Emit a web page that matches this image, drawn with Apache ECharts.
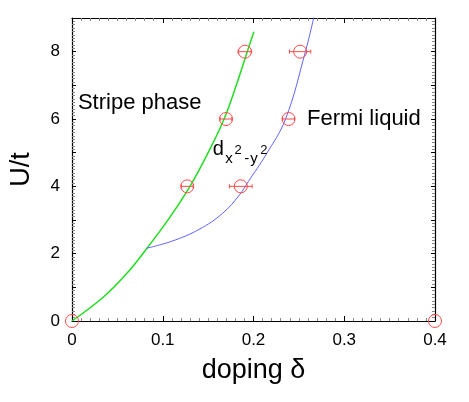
<!DOCTYPE html>
<html>
<head>
<meta charset="utf-8">
<script src="https://cdn.jsdelivr.net/npm/echarts@6/dist/echarts.min.js"></script>
<style>
  html, body { margin: 0; padding: 0; background: #fff; }
  #phaseChart { width: 469px; height: 402px; }
</style>
</head>
<body>
<div id="phaseChart"></div>
<script>
// stripe / d-wave boundary (green)
const stripeLine = [
  [0, 0], [0.035, 0.72], [0.06, 1.4], [0.082, 2.14], [0.107, 3.05],
  [0.13, 4.0], [0.15, 5.0], [0.1676, 6.0], [0.181, 7.0],
  [0.1931, 8.0], [0.2004, 8.59]
];
// d-wave / Fermi liquid boundary (blue)
const fermiLine = [
  [0.082, 2.16], [0.11, 2.37], [0.14, 2.72], [0.166, 3.2], [0.1844, 3.74],
  [0.1942, 4.14], [0.2135, 4.93], [0.2353, 6.0], [0.2572, 8.0], [0.267, 9.09]
];
// simulation points: [doping, U/t, error in doping]
const qmcPoints = [
  [0, 0, 0], [0.4, 0, 0],
  [0.127, 4, 0.0065], [0.186, 4, 0.0125],
  [0.1697, 6, 0.0065], [0.2386, 6, 0.0065],
  [0.1905, 8, 0.0075], [0.2514, 8, 0.0117]
];
const xTicks = [0, 0.1, 0.2, 0.3, 0.4];
const yTicks = [0, 2, 4, 6, 8];

const font = 'Liberation Sans, Arial, sans-serif';
const red = '#ff4a4a';

let myChart = echarts.init(document.getElementById('phaseChart'));

function xAxisBase(pos) {
  return {
    type: 'value', position: pos, min: xTicks[0], max: xTicks[xTicks.length - 1], interval: 0.1,
    axisLine: { show: true, onZero: false, lineStyle: { color: '#000', width: 1.2 } },
    axisTick: { show: true, inside: true, length: 5, lineStyle: { color: '#000' } },
    minorTick: { show: true, splitNumber: 10, length: 3, lineStyle: { color: '#888' } },
    splitLine: { show: false },
    axisLabel: { show: false }
  };
}
function yAxisBase(pos) {
  return {
    type: 'value', position: pos, min: 0, max: 9, interval: 1,
    axisLine: { show: true, onZero: false, lineStyle: { color: '#000', width: 1.2 } },
    axisTick: { show: true, inside: true, length: 4, lineStyle: { color: '#000' } },
    minorTick: { show: true, splitNumber: 10, length: 3, lineStyle: { color: '#888' } },
    splitLine: { show: false },
    axisLabel: { show: false }
  };
}

let xBottom = xAxisBase('bottom');
xBottom.axisLabel = { show: true, fontSize: 17, color: '#000', fontFamily: font, margin: 11 };
xBottom.name = 'doping δ';
xBottom.nameLocation = 'middle';
xBottom.nameGap = 36;
xBottom.nameTextStyle = { fontSize: 27, color: '#000', fontFamily: font };

let yLeft = yAxisBase('left');
yLeft.axisLabel = {
  show: true, fontSize: 17, color: '#000', fontFamily: font, margin: 12,
  formatter: v => (yTicks.indexOf(v) >= 0 ? String(v) : '')
};
yLeft.name = 'U/t';
yLeft.nameLocation = 'middle';
yLeft.nameGap = 37;
yLeft.nameTextStyle = { fontSize: 27, color: '#000', fontFamily: font };

let xTop = xAxisBase('top');
let yRight = yAxisBase('right');

myChart.setOption({
  animation: false,
  backgroundColor: '#fff',
  grid: { left: 69, right: 34, top: 18, bottom: 81, containLabel: false },
  xAxis: [xBottom, xTop],
  yAxis: [yLeft, yRight],
  series: [
    {
      name: 'stripe', type: 'line', data: stripeLine, smooth: 0.4,
      symbol: 'none', lineStyle: { color: '#22dd22', width: 1.5 }, z: 2
    },
    {
      name: 'fermi', type: 'line', data: fermiLine, smooth: 0.4,
      symbol: 'none', lineStyle: { color: '#6060ff', width: 1 }, z: 2
    },
    {
      name: 'errors', type: 'custom', data: qmcPoints, z: 3,
      renderItem: function (params, api) {
        const err = api.value(2);
        if (!err) return null;
        const lo = api.coord([api.value(0) - err, api.value(1)]);
        const hi = api.coord([api.value(0) + err, api.value(1)]);
        const style = { stroke: red, lineWidth: 1 };
        return {
          type: 'group',
          children: [
            { type: 'line', shape: { x1: lo[0], y1: lo[1], x2: hi[0], y2: hi[1] }, style: style },
            { type: 'line', shape: { x1: lo[0], y1: lo[1] - 2, x2: lo[0], y2: lo[1] + 2 }, style: style },
            { type: 'line', shape: { x1: hi[0], y1: hi[1] - 2, x2: hi[0], y2: hi[1] + 2 }, style: style }
          ]
        };
      },
      encode: { x: 0, y: 1 }
    },
    {
      name: 'points', type: 'scatter', data: qmcPoints.map(p => [p[0], p[1]]),
      symbol: 'circle', symbolSize: 13, clip: false,
      itemStyle: { color: 'rgba(255,255,255,0)', borderColor: red, borderWidth: 1, opacity: 1 }, z: 4
    }
  ]
});

// text labels placed in data coordinates
function px(x, y) { return myChart.convertToPixel({ gridIndex: 0 }, [x, y]); }
function label(left, baseline, text, size) {
  return {
    type: 'text', x: left, y: baseline - 0.35 * size, z: 10,
    style: { text: text, font: size + 'px ' + font, fill: '#000', verticalAlign: 'middle', align: 'left' }
  };
}
const stripePos = px(0.0098, 6.25);
const fermiPos = px(0.259, 5.78);
const dPos = px(0.1552, 4.89);
myChart.setOption({
  graphic: [
    label(stripePos[0] - 3, stripePos[1], 'Stripe phase', 22),
    label(fermiPos[0], fermiPos[1], 'Fermi liquid', 22),
    label(dPos[0], dPos[1], 'd', 20),
    label(dPos[0] + 12.3, dPos[1] + 7.7, 'x', 15),
    label(dPos[0] + 21.7, dPos[1] - 1.6, '2', 13),
    label(dPos[0] + 31.3, dPos[1] + 7.7, '-', 15),
    label(dPos[0] + 37.3, dPos[1] + 7.7, 'y', 15),
    label(dPos[0] + 47.3, dPos[1] - 1.6, '2', 13)
  ]
});

window.addEventListener('resize', function () {
  myChart.resize();
});
</script>
</body>
</html>
